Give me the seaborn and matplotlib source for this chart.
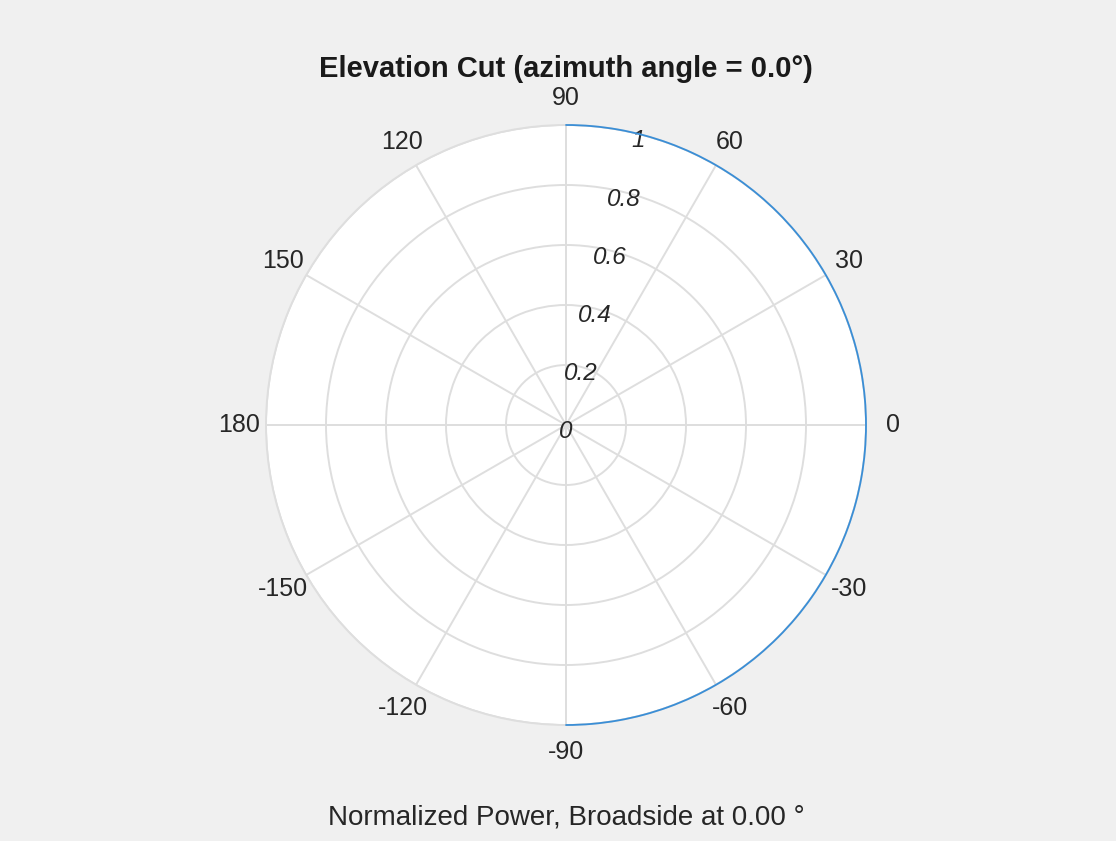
import numpy as np
import seaborn as sns
import matplotlib.pyplot as plt
import matplotlib.transforms as mtransforms
import pandas as pd

# elevation cut, isotropic element -> normalized power 1 everywhere from -90 to 90
angle_deg = [-90, -80, -70, -60, -50, -40, -30, -20, -10, 0,
             10, 20, 30, 40, 50, 60, 70, 80, 90]
power = [1, 1, 1, 1, 1, 1, 1, 1, 1, 1,
         1, 1, 1, 1, 1, 1, 1, 1, 1]
theta_ticks = [0, 30, 60, 90, 120, 150, 180, 210, 240, 270, 300, 330]
theta_labels = ['0', '30', '60', '90', '120', '150', '180',
                '-150', '-120', '-90', '-60', '-30']
r_ticks = [0, 0.2, 0.4, 0.6, 0.8, 1]
r_labels = ['0', '0.2', '0.4', '0.6', '0.8', '1']

sns.set_style('white')
plt.rcParams['font.family'] = ['Liberation Sans', 'DejaVu Sans']

df = pd.DataFrame({'theta': np.deg2rad(angle_deg), 'r': power})

fig = plt.figure(figsize=(11.16, 8.41), dpi=100, facecolor='#f0f0f0')
ax = fig.add_axes([266 / 1116, 116 / 841, 600 / 1116, 600 / 841], projection='polar')
ax.set_facecolor('white')

sns.lineplot(data=df, x='theta', y='r', sort=False, color='#3a8ed6', lw=1.3, ax=ax)
line = ax.lines[0]
# draw the segments as arcs, not chords, and on top of the outer ring
line.get_path()._interpolation_steps = 20
line.set_clip_on(False)
line.set_zorder(5)

ax.set_ylim(0, 1)
ax.set_thetagrids(theta_ticks, theta_labels, fontsize=18, color='#262626')
ax.set_rgrids(r_ticks, [''] * len(r_ticks))
ax.tick_params(axis='x', pad=9)
ax.grid(True, color='#dedede', lw=1.4)
ax.spines['polar'].set_color('#dedede')
ax.spines['polar'].set_linewidth(1.4)
ax.set_xlabel('')
ax.set_ylabel('')

# radial tick labels, italic, along the 76 degree spoke
lab_tr = mtransforms.offset_copy(ax.transData, fig=fig, x=0, y=-7, units='dots')
for r, lab in zip(r_ticks, r_labels):
    ax.text(np.deg2rad(76), r, lab, transform=lab_tr, ha='center', va='center',
            fontsize=17.5, style='italic', color='#262626', clip_on=False)

fig.text(566 / 1116, 1 - 69 / 841, 'Elevation Cut (azimuth angle = 0.0°)',
         ha='center', va='center', fontsize=21, fontweight='bold', color='#1a1a1a')
fig.text(566 / 1116, 1 - 818 / 841, 'Normalized Power, Broadside at 0.00 °',
         ha='center', va='center', fontsize=20, color='#262626')

fig.savefig('out.png', dpi=100, facecolor=fig.get_facecolor())
